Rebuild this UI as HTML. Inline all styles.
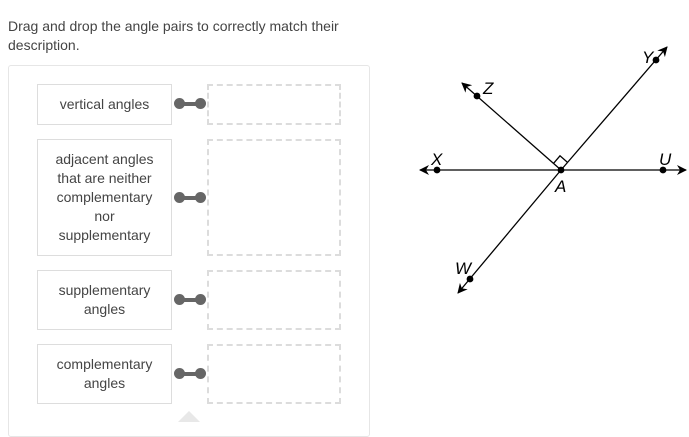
<!DOCTYPE html>
<html><head><style>
body{margin:0;width:689px;height:422px;background:#fff;position:relative;overflow:hidden;font-family:"Liberation Sans",sans-serif;color:#444}
.q{position:absolute;left:8px;top:17px;font-size:14px;line-height:19px;width:350px}
.panel{position:absolute;left:8px;top:65px;width:360px;height:370px;border:1px solid #e6e6e6;border-radius:3px}
.b{position:absolute;left:37px;width:133px;border:1px solid #ddd;font-size:14px;line-height:19px;text-align:center;display:flex;align-items:center;justify-content:center;color:#444}
.d{position:absolute;left:207px;width:130px;border:2px dashed #dcdcdc}
.c{position:absolute;left:174px;width:32px;height:12px}
.c:before,.c:after{content:"";position:absolute;top:0;width:11px;height:11px;border-radius:50%;background:#666}
.c:before{left:0}.c:after{right:0}
.c i{position:absolute;left:5px;right:5px;top:4px;height:4px;background:#666}
.tri{position:absolute;left:178px;top:411px;width:0;height:0;border-left:11px solid transparent;border-right:11px solid transparent;border-bottom:11px solid #e8e8e8}
</style></head><body>
<div class="q">Drag and drop the angle pairs to correctly match their description.</div>
<div class="panel"></div>
<div class="b" style="top:84px;height:39px">vertical angles</div>
<div class="d" style="top:84px;height:37px"></div>
<div class="c" style="top:98px"><i></i></div>
<div class="b" style="top:139px;height:115px">adjacent angles<br>that are neither<br>complementary<br>nor<br>supplementary</div>
<div class="d" style="top:139px;height:113px"></div>
<div class="c" style="top:192px"><i></i></div>
<div class="b" style="top:270px;height:58px">supplementary<br>angles</div>
<div class="d" style="top:270px;height:56px"></div>
<div class="c" style="top:294px"><i></i></div>
<div class="b" style="top:344px;height:58px">complementary<br>angles</div>
<div class="d" style="top:344px;height:56px"></div>
<div class="c" style="top:368px"><i></i></div>
<div class="tri"></div>
<svg style="position:absolute;left:0;top:0" width="689" height="422">
<defs><marker id="ar" viewBox="0 0 10 10" refX="9" refY="5" markerWidth="10" markerHeight="10" markerUnits="userSpaceOnUse" orient="auto"><path d="M0,0 L10,5 L0,10 L3,5 Z" fill="#000"/></marker></defs>
<g stroke="#000" stroke-width="1.3" fill="none">
<line x1="561" y1="170" x2="420" y2="170" marker-end="url(#ar)"/>
<line x1="561" y1="170" x2="686" y2="170" marker-end="url(#ar)"/>
<line x1="561" y1="170" x2="667" y2="47" marker-end="url(#ar)"/>
<line x1="561" y1="170" x2="462" y2="83" marker-end="url(#ar)"/>
<line x1="561" y1="170" x2="458" y2="293" marker-end="url(#ar)"/>
<polyline points="553.5,163.4 560,155.8 567.5,162.4"/>
</g>
<g fill="#000">
<circle cx="437" cy="170" r="3.4"/><circle cx="663" cy="170" r="3.4"/><circle cx="561" cy="170" r="3.4"/>
<circle cx="656" cy="60" r="3.4"/><circle cx="477" cy="96" r="3.4"/><circle cx="470" cy="279" r="3.4"/>
</g>
<g font-family="Liberation Sans,sans-serif" font-style="italic" font-size="17" fill="#000">
<text x="431" y="165">X</text><text x="483" y="94">Z</text><text x="642" y="63">Y</text>
<text x="659" y="165">U</text><text x="555" y="192">A</text><text x="455" y="274">W</text>
</g>
</svg>
</body></html>
